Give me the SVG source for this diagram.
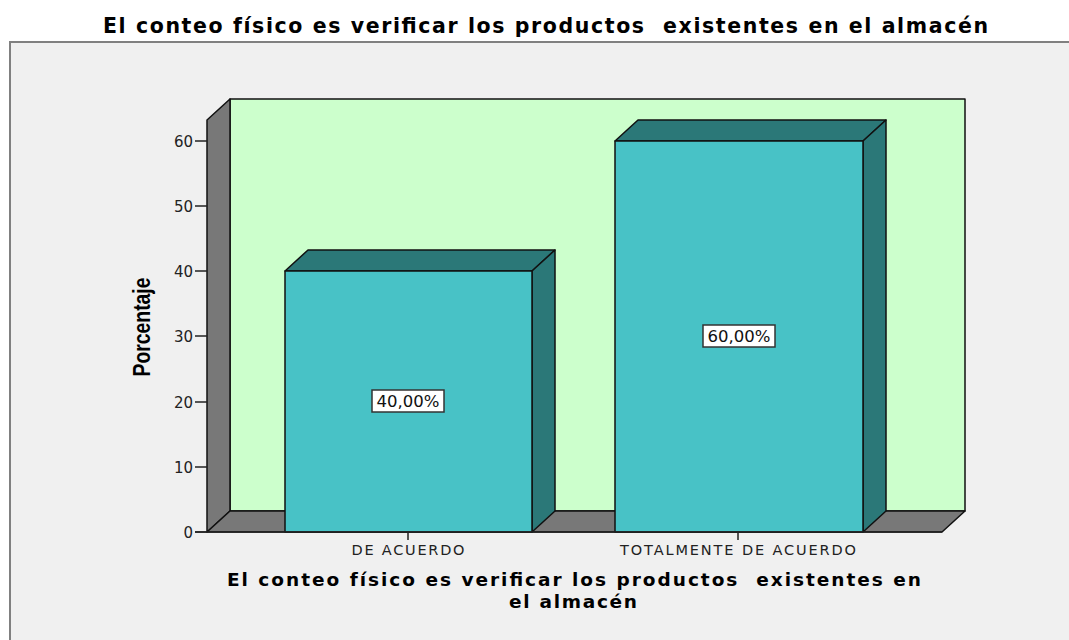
<svg xmlns="http://www.w3.org/2000/svg" width="1069" height="640" viewBox="0 0 1069 640">
<style>
.title{font-family:"DejaVu Sans","Liberation Sans",sans-serif;font-weight:bold;font-size:20.5px;fill:#000}
.xtitle{font-family:"DejaVu Sans","Liberation Sans",sans-serif;font-weight:bold;font-size:18.5px;fill:#000}
.ytitle{font-family:"Liberation Sans",Arial,sans-serif;font-weight:bold;font-size:23px;fill:#000}
.tick{font-family:"DejaVu Sans","Liberation Sans",sans-serif;font-size:15px;fill:#222}
.cat{font-family:"DejaVu Sans","Liberation Sans",sans-serif;font-size:14.5px;fill:#222}
.val{font-family:"DejaVu Sans","Liberation Sans",sans-serif;font-size:15px;fill:#111}
.edge{stroke:#111;stroke-width:1.5;stroke-linejoin:round}
.gray{fill:#787878}
.front{fill:#48C2C6}
.dark{fill:#2B7878}
.axis{stroke:#222;stroke-width:1.5;fill:none}
.box{fill:#fff;stroke:#333;stroke-width:1.5}
</style>
<rect x="0" y="0" width="1069" height="640" fill="#ffffff"/>
<rect x="10" y="42" width="1070" height="610" fill="#F0F0F0" stroke="#808080" stroke-width="2"/>
<text class="title" x="545.5" y="33" text-anchor="middle" textLength="885" lengthAdjust="spacing" xml:space="preserve">El conteo físico es verificar los productos  existentes en el almacén</text>
<g id="walls">
<rect x="230" y="99" width="735" height="412" fill="#CCFFCC" class="edge"/>
<polygon points="207,120 230,99 230,511 207,532" class="gray edge"/>
<polygon points="207,532 230,511 965,511 942,532" class="gray edge"/>
</g>
<g id="yaxis">
<path class="axis" d="M195,141H207M195,206H207M195,271H207M195,336H207M195,402H207M195,467H207M195,532H207"/>
<text class="tick" x="193" y="146.5" text-anchor="end">60</text>
<text class="tick" x="193" y="211.5" text-anchor="end">50</text>
<text class="tick" x="193" y="276.5" text-anchor="end">40</text>
<text class="tick" x="193" y="341.5" text-anchor="end">30</text>
<text class="tick" x="193" y="407.5" text-anchor="end">20</text>
<text class="tick" x="193" y="472.5" text-anchor="end">10</text>
<text class="tick" x="193" y="537.5" text-anchor="end">0</text>
<text class="ytitle" transform="translate(150,327) rotate(-90)" text-anchor="middle" textLength="99" lengthAdjust="spacingAndGlyphs">Porcentaje</text>
</g>
<g id="bar1">
<polygon points="285,271 308,250 555,250 532,271" class="dark edge"/>
<polygon points="532,271 555,250 555,511 532,532" class="dark edge"/>
<rect x="285" y="271" width="247" height="261" class="front edge"/>
<rect x="372" y="390" width="72" height="22" class="box"/>
<text class="val" x="408" y="407" text-anchor="middle" textLength="63" lengthAdjust="spacingAndGlyphs">40,00%</text>
</g>
<g id="bar2">
<polygon points="615,141 638,120 886,120 863,141" class="dark edge"/>
<polygon points="863,141 886,120 886,511 863,532" class="dark edge"/>
<rect x="615" y="141" width="248" height="391" class="front edge"/>
<rect x="703" y="325" width="72" height="22" class="box"/>
<text class="val" x="739" y="342" text-anchor="middle" textLength="63" lengthAdjust="spacingAndGlyphs">60,00%</text>
</g>
<g id="xaxis">
<path class="axis" d="M195,532H942M408,532V540M738,532V540"/>
<text class="cat" x="408" y="555" text-anchor="middle" textLength="113" lengthAdjust="spacing">DE ACUERDO</text>
<text class="cat" x="738" y="555" text-anchor="middle" textLength="236" lengthAdjust="spacing">TOTALMENTE DE ACUERDO</text>
<text class="xtitle" x="574" y="586" text-anchor="middle" textLength="694" lengthAdjust="spacing" xml:space="preserve">El conteo físico es verificar los productos  existentes en</text>
<text class="xtitle" x="573" y="608" text-anchor="middle" textLength="128" lengthAdjust="spacing">el almacén</text>
</g>
</svg>
